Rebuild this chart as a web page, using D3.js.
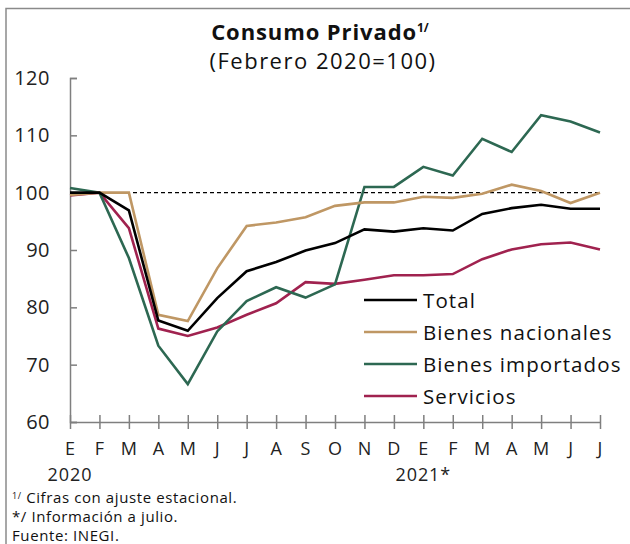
<!DOCTYPE html>
<html>
<head>
<meta charset="utf-8">
<script src="https://cdn.jsdelivr.net/npm/d3@7"></script>
<style>
  body { margin: 0; background: #fff; }
  svg { font-family: "Open Sans", sans-serif; }
</style>
</head>
<body>
<div id="container"></div>
<script>
const months = ['E', 'F', 'M', 'A', 'M', 'J', 'J', 'A', 'S', 'O', 'N', 'D', 'E', 'F', 'M', 'A', 'M', 'J', 'J'];
const total = [100.0, 100, 96.9, 77.7, 75.9, 81.6, 86.3, 87.9, 89.9, 91.2, 93.6, 93.2, 93.8, 93.4, 96.3, 97.3, 97.9, 97.2, 97.2];
const nacionales = [99.6, 100, 100, 78.7, 77.6, 86.8, 94.2, 94.8, 95.7, 97.7, 98.3, 98.3, 99.3, 99.1, 99.8, 101.4, 100.3, 98.2, 100.0];
const importados = [100.8, 100, 88.6, 73.3, 66.6, 75.8, 81.1, 83.5, 81.7, 84.0, 101.0, 101.0, 104.5, 103.0, 109.4, 107.1, 113.5, 112.4, 110.5];
const servicios = [99.5, 100, 93.8, 76.3, 75.0, 76.5, 78.7, 80.7, 84.4, 84.1, 84.8, 85.6, 85.6, 85.8, 88.4, 90.1, 91.0, 91.3, 90.1];
const yTicks = [60, 70, 80, 90, 100, 110, 120];
const years = [{ label: '2020', i: 0 }, { label: '2021*', i: 12 }];
const footnotes = ['Cifras con ajuste estacional.', '*/ Información a julio.', 'Fuente: INEGI.'];

const series = [
  { name: 'Total', values: total, color: '#000000' },
  { name: 'Bienes nacionales', values: nacionales, color: '#bf9764' },
  { name: 'Bienes importados', values: importados, color: '#2d6852' },
  { name: 'Servicios', values: servicios, color: '#a0224f' }
];

const width = 630, height = 544;
const svg = d3.select('#container').append('svg')
  .attr('width', width).attr('height', height);

// frame
svg.append('path')
  .attr('d', `M6,${height} V8.5 H${width}`)
  .attr('fill', 'none').attr('stroke', '#8a8a8a').attr('stroke-width', 1.5);

// title
const title = svg.append('text')
  .attr('x', 320).attr('y', 40)
  .attr('text-anchor', 'middle')
  .attr('font-size', 22).attr('font-weight', 'bold').attr('fill', '#111')
  .attr('letter-spacing', 0.9);
title.append('tspan').text('Consumo Privado');
title.append('tspan').attr('font-size', 12).attr('dy', -8).attr('letter-spacing', 0).text('1/');

svg.append('text')
  .attr('x', 323).attr('y', 69)
  .attr('text-anchor', 'middle')
  .attr('font-size', 22).attr('fill', '#111')
  .attr('letter-spacing', 1.5)
  .text('(Febrero 2020=100)');

const x = d3.scalePoint().domain(d3.range(months.length)).range([70, 600]);
const y = d3.scaleLinear().domain([60, 120]).range([422, 78]);

// y axis
const yAxis = svg.append('g')
  .attr('transform', 'translate(70,0)')
  .call(d3.axisRight(y).tickValues(yTicks).tickSize(7).tickFormat(''));
yAxis.select('.domain').attr('stroke', '#7f7f7f').attr('stroke-width', 1.5);
yAxis.selectAll('.tick line').attr('stroke', '#7f7f7f').attr('stroke-width', 1.5);

svg.append('g').selectAll('text').data(yTicks).join('text')
  .attr('x', 50).attr('y', d => y(d) + 7)
  .attr('text-anchor', 'end')
  .attr('font-size', 20).attr('fill', '#222')
  .attr('letter-spacing', 0.5)
  .text(d => d);

// x axis
const xAxis = svg.append('g')
  .attr('transform', 'translate(0,422)')
  .call(d3.axisBottom(x).tickSizeInner(7).tickSizeOuter(0).tickFormat(''));
xAxis.select('.domain').attr('stroke', '#7f7f7f').attr('stroke-width', 1.5);
xAxis.selectAll('.tick line').attr('y1', -7).attr('stroke', '#7f7f7f').attr('stroke-width', 1.5);

svg.append('g').selectAll('text').data(months).join('text')
  .attr('x', (d, i) => x(i)).attr('y', 455)
  .attr('text-anchor', 'middle')
  .attr('font-size', 18).attr('fill', '#222')
  .text(d => d);

svg.append('g').selectAll('text').data(years).join('text')
  .attr('x', d => x(d.i)).attr('y', 481)
  .attr('text-anchor', 'middle')
  .attr('font-size', 18).attr('fill', '#222')
  .attr('letter-spacing', 0.9)
  .text(d => d.label);

// reference line at 100
svg.append('line')
  .attr('x1', x(0)).attr('x2', x(months.length - 1))
  .attr('y1', y(100)).attr('y2', y(100))
  .attr('stroke', '#000').attr('stroke-width', 1.2)
  .attr('stroke-dasharray', '4,3');

// lines
const line = d3.line().x((d, i) => x(i)).y(d => y(d));
svg.append('g').selectAll('path').data(series.slice().reverse()).join('path')
  .attr('d', d => line(d.values))
  .attr('fill', 'none')
  .attr('stroke', d => d.color)
  .attr('stroke-width', 2.6)
  .attr('stroke-linejoin', 'miter');

// legend
const legend = svg.append('g').selectAll('g').data(series).join('g')
  .attr('transform', (d, i) => `translate(364, ${300 + i * 32})`);
legend.append('line')
  .attr('x1', 0).attr('x2', 53)
  .attr('stroke', d => d.color).attr('stroke-width', 2.6);
legend.append('text')
  .attr('x', 59).attr('y', 7.5)
  .attr('font-size', 20.5).attr('fill', '#111')
  .attr('letter-spacing', 1.1)
  .text(d => d.name);

// footnotes
const notes = svg.append('g').attr('font-size', 15).attr('fill', '#111').attr('letter-spacing', 0.6);
const n1 = notes.append('text').attr('x', 12).attr('y', 503);
n1.append('tspan').attr('font-size', 9).attr('dy', -4).text('1/');
n1.append('tspan').attr('dy', 4).text(' ' + footnotes[0]);
notes.append('text').attr('x', 12).attr('y', 522).text(footnotes[1]);
notes.append('text').attr('x', 12).attr('y', 541).text(footnotes[2]);
</script>
</body>
</html>
